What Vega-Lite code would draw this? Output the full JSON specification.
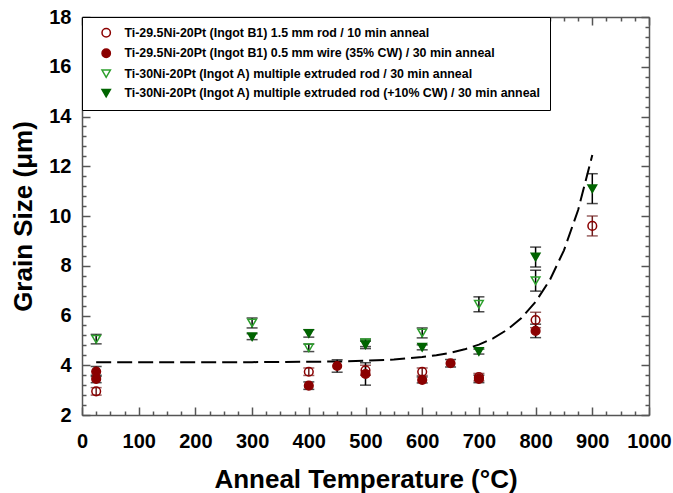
{
  "$schema": "https://vega.github.io/schema/vega-lite/v6.json",
  "width": 567,
  "height": 398,
  "autosize": {"type": "none"},
  "padding": {"left": 82, "top": 17, "right": 24, "bottom": 78},
  "background": "white",
  "config": {
    "view": {"stroke": null},
    "font": "Liberation Sans",
    "axis": {
      "grid": false,
      "domainColor": "#555555",
      "domainWidth": 1.5,
      "tickColor": "#555555",
      "tickWidth": 1.5,
      "labelFont": "Liberation Sans",
      "labelFontWeight": "bold",
      "labelFontSize": 20,
      "labelColor": "black",
      "labelOverlap": false,
      "labelFlush": false,
      "titleFont": "Liberation Sans",
      "titleFontWeight": "bold",
      "titleFontSize": 26,
      "titleColor": "black"
    }
  },
  "datasets": {
    "grain": [
      {"T": 25, "size": 2.95, "lo": 2.8, "hi": 3.1, "series": "Ti-29.5Ni-20Pt (Ingot B1) 1.5 mm rod / 10 min anneal"},
      {"T": 400, "size": 3.74, "lo": 3.59, "hi": 3.89, "series": "Ti-29.5Ni-20Pt (Ingot B1) 1.5 mm rod / 10 min anneal"},
      {"T": 500, "size": 3.8, "lo": 3.6, "hi": 4.0, "series": "Ti-29.5Ni-20Pt (Ingot B1) 1.5 mm rod / 10 min anneal"},
      {"T": 600, "size": 3.74, "lo": 3.59, "hi": 3.89, "series": "Ti-29.5Ni-20Pt (Ingot B1) 1.5 mm rod / 10 min anneal"},
      {"T": 700, "size": 3.52, "lo": 3.37, "hi": 3.67, "series": "Ti-29.5Ni-20Pt (Ingot B1) 1.5 mm rod / 10 min anneal"},
      {"T": 800, "size": 5.82, "lo": 5.51, "hi": 6.13, "series": "Ti-29.5Ni-20Pt (Ingot B1) 1.5 mm rod / 10 min anneal"},
      {"T": 900, "size": 9.6, "lo": 9.2, "hi": 10.0, "series": "Ti-29.5Ni-20Pt (Ingot B1) 1.5 mm rod / 10 min anneal"},
      {"T": 25, "size": 3.75, "lo": 3.55, "hi": 3.95, "series": "Ti-29.5Ni-20Pt (Ingot B1) 0.5 mm wire (35% CW) / 30 min anneal"},
      {"T": 25, "size": 3.45, "lo": 3.3, "hi": 3.6, "series": "Ti-29.5Ni-20Pt (Ingot B1) 0.5 mm wire (35% CW) / 30 min anneal"},
      {"T": 400, "size": 3.18, "lo": 3.03, "hi": 3.33, "series": "Ti-29.5Ni-20Pt (Ingot B1) 0.5 mm wire (35% CW) / 30 min anneal"},
      {"T": 450, "size": 3.97, "lo": 3.72, "hi": 4.22, "series": "Ti-29.5Ni-20Pt (Ingot B1) 0.5 mm wire (35% CW) / 30 min anneal"},
      {"T": 500, "size": 3.65, "lo": 3.2, "hi": 4.1, "series": "Ti-29.5Ni-20Pt (Ingot B1) 0.5 mm wire (35% CW) / 30 min anneal"},
      {"T": 600, "size": 3.41, "lo": 3.29, "hi": 3.53, "series": "Ti-29.5Ni-20Pt (Ingot B1) 0.5 mm wire (35% CW) / 30 min anneal"},
      {"T": 650, "size": 4.08, "lo": 3.93, "hi": 4.23, "series": "Ti-29.5Ni-20Pt (Ingot B1) 0.5 mm wire (35% CW) / 30 min anneal"},
      {"T": 700, "size": 3.45, "lo": 3.3, "hi": 3.6, "series": "Ti-29.5Ni-20Pt (Ingot B1) 0.5 mm wire (35% CW) / 30 min anneal"},
      {"T": 800, "size": 5.38, "lo": 5.11, "hi": 5.65, "series": "Ti-29.5Ni-20Pt (Ingot B1) 0.5 mm wire (35% CW) / 30 min anneal"},
      {"T": 25, "size": 5.05, "lo": 4.86, "hi": 5.24, "series": "Ti-30Ni-20Pt (Ingot A) multiple extruded rod / 30 min anneal"},
      {"T": 300, "size": 5.7, "lo": 5.5, "hi": 5.9, "series": "Ti-30Ni-20Pt (Ingot A) multiple extruded rod / 30 min anneal"},
      {"T": 400, "size": 4.7, "lo": 4.55, "hi": 4.85, "series": "Ti-30Ni-20Pt (Ingot A) multiple extruded rod / 30 min anneal"},
      {"T": 500, "size": 4.9, "lo": 4.75, "hi": 5.05, "series": "Ti-30Ni-20Pt (Ingot A) multiple extruded rod / 30 min anneal"},
      {"T": 600, "size": 5.3, "lo": 5.1, "hi": 5.5, "series": "Ti-30Ni-20Pt (Ingot A) multiple extruded rod / 30 min anneal"},
      {"T": 700, "size": 6.45, "lo": 6.15, "hi": 6.75, "series": "Ti-30Ni-20Pt (Ingot A) multiple extruded rod / 30 min anneal"},
      {"T": 800, "size": 7.4, "lo": 6.98, "hi": 7.82, "series": "Ti-30Ni-20Pt (Ingot A) multiple extruded rod / 30 min anneal"},
      {"T": 300, "size": 5.15, "lo": 5.03, "hi": 5.27, "series": "Ti-30Ni-20Pt (Ingot A) multiple extruded rod (+10% CW) / 30 min anneal"},
      {"T": 400, "size": 5.28, "lo": 5.13, "hi": 5.43, "series": "Ti-30Ni-20Pt (Ingot A) multiple extruded rod (+10% CW) / 30 min anneal"},
      {"T": 500, "size": 4.82, "lo": 4.67, "hi": 4.97, "series": "Ti-30Ni-20Pt (Ingot A) multiple extruded rod (+10% CW) / 30 min anneal"},
      {"T": 600, "size": 4.72, "lo": 4.62, "hi": 4.82, "series": "Ti-30Ni-20Pt (Ingot A) multiple extruded rod (+10% CW) / 30 min anneal"},
      {"T": 700, "size": 4.55, "lo": 4.45, "hi": 4.65, "series": "Ti-30Ni-20Pt (Ingot A) multiple extruded rod (+10% CW) / 30 min anneal"},
      {"T": 800, "size": 8.35, "lo": 7.95, "hi": 8.75, "series": "Ti-30Ni-20Pt (Ingot A) multiple extruded rod (+10% CW) / 30 min anneal"},
      {"T": 900, "size": 11.1, "lo": 10.5, "hi": 11.7, "series": "Ti-30Ni-20Pt (Ingot A) multiple extruded rod (+10% CW) / 30 min anneal"}
    ],
    "fit": [
      {"T": 25, "size": 4.12},
      {"T": 100, "size": 4.12},
      {"T": 200, "size": 4.12},
      {"T": 300, "size": 4.125},
      {"T": 400, "size": 4.14},
      {"T": 450, "size": 4.15},
      {"T": 500, "size": 4.18},
      {"T": 550, "size": 4.23},
      {"T": 600, "size": 4.33},
      {"T": 625, "size": 4.4},
      {"T": 650, "size": 4.5},
      {"T": 675, "size": 4.64},
      {"T": 700, "size": 4.83},
      {"T": 725, "size": 5.08},
      {"T": 750, "size": 5.43},
      {"T": 775, "size": 5.9},
      {"T": 800, "size": 6.55},
      {"T": 825, "size": 7.42},
      {"T": 850, "size": 8.62},
      {"T": 875, "size": 10.24},
      {"T": 900, "size": 12.45}
    ]
  },
  "resolve": {"axis": {"x": "independent", "y": "independent"}},
  "layer": [
    {
      "data": {"name": "fit"},
      "mark": {"type": "line", "color": "black", "strokeWidth": 2, "strokeDash": [15, 6]},
      "encoding": {
        "x": {
          "field": "T", "type": "quantitative",
          "scale": {"domain": [0, 1000], "nice": false},
          "axis": {
            "orient": "top", "labels": false, "title": null,
            "values": [0,25,50,75,100,125,150,175,200,225,250,275,300,325,350,375,400,425,450,475,500,525,550,575,600,625,650,675,700,725,750,775,800,825,850,875,900,925,950,975,1000],
            "tickSize": {"condition": {"test": "datum.value % 100 === 0", "value": -8}, "value": -4}
          }
        },
        "y": {
          "field": "size", "type": "quantitative",
          "scale": {"domain": [2, 18], "nice": false, "zero": false},
          "axis": {
            "orient": "right", "labels": false, "title": null,
            "values": [2,2.4,2.8,3.2,3.6,4,4.4,4.8,5.2,5.6,6,6.4,6.8,7.2,7.6,8,8.4,8.8,9.2,9.6,10,10.4,10.8,11.2,11.6,12,12.4,12.8,13.2,13.6,14,14.4,14.8,15.2,15.6,16,16.4,16.8,17.2,17.6,18],
            "tickSize": {"condition": {"test": "datum.value % 2 === 0", "value": -8}, "value": -4}
          }
        }
      }
    },
    {
      "data": {"name": "grain"},
      "transform": [{"filter": "datum.series === 'Ti-29.5Ni-20Pt (Ingot B1) 1.5 mm rod / 10 min anneal'"}],
      "layer": [
        {
          "mark": {"type": "rule", "color": "#6e1c1c", "strokeWidth": 1.5},
          "encoding": {
            "x": {"field": "T", "type": "quantitative", "axis": null},
            "y": {"field": "lo", "type": "quantitative", "axis": null},
            "y2": {"field": "hi"}
          }
        },
        {
          "mark": {"type": "tick", "orient": "horizontal", "color": "#6e1c1c", "size": 11, "thickness": 1.5},
          "encoding": {
            "x": {"field": "T", "type": "quantitative", "axis": null},
            "y": {"field": "lo", "type": "quantitative", "axis": null}
          }
        },
        {
          "mark": {"type": "tick", "orient": "horizontal", "color": "#6e1c1c", "size": 11, "thickness": 1.5},
          "encoding": {
            "x": {"field": "T", "type": "quantitative", "axis": null},
            "y": {"field": "hi", "type": "quantitative", "axis": null}
          }
        }
      ]
    },
    {
      "data": {"name": "grain"},
      "transform": [{"filter": "datum.series !== 'Ti-29.5Ni-20Pt (Ingot B1) 1.5 mm rod / 10 min anneal'"}],
      "layer": [
        {
          "mark": {"type": "rule", "color": "black", "strokeWidth": 1.5},
          "encoding": {
            "x": {"field": "T", "type": "quantitative", "axis": null},
            "y": {"field": "lo", "type": "quantitative", "axis": null},
            "y2": {"field": "hi"}
          }
        },
        {
          "mark": {"type": "tick", "orient": "horizontal", "color": "black", "size": 11, "thickness": 1.5},
          "encoding": {
            "x": {"field": "T", "type": "quantitative", "axis": null},
            "y": {"field": "lo", "type": "quantitative", "axis": null}
          }
        },
        {
          "mark": {"type": "tick", "orient": "horizontal", "color": "black", "size": 11, "thickness": 1.5},
          "encoding": {
            "x": {"field": "T", "type": "quantitative", "axis": null},
            "y": {"field": "hi", "type": "quantitative", "axis": null}
          }
        }
      ]
    },
    {
      "data": {"name": "grain"},
      "mark": {"type": "point", "size": 75, "strokeWidth": 1.5, "opacity": 1},
      "encoding": {
        "x": {
          "field": "T", "type": "quantitative",
          "title": "Anneal Temperature (°C)",
          "axis": {
            "orient": "bottom",
            "values": [0,25,50,75,100,125,150,175,200,225,250,275,300,325,350,375,400,425,450,475,500,525,550,575,600,625,650,675,700,725,750,775,800,825,850,875,900,925,950,975,1000],
            "labelExpr": "datum.value % 100 === 0 ? format(datum.value, 'd') : ''",
            "labelOverlap": false,
            "labelFlush": false,
            "tickSize": {"condition": {"test": "datum.value % 100 === 0", "value": -8}, "value": -4},
            "labelPadding": 24,
            "titlePadding": 11
          }
        },
        "y": {
          "field": "size", "type": "quantitative",
          "title": "Grain Size (μm)",
          "axis": {
            "orient": "left",
            "values": [2,2.4,2.8,3.2,3.6,4,4.4,4.8,5.2,5.6,6,6.4,6.8,7.2,7.6,8,8.4,8.8,9.2,9.6,10,10.4,10.8,11.2,11.6,12,12.4,12.8,13.2,13.6,14,14.4,14.8,15.2,15.6,16,16.4,16.8,17.2,17.6,18],
            "labelExpr": "datum.value % 2 === 0 ? format(datum.value, 'd') : ''",
            "labelOverlap": false,
            "tickSize": {"condition": {"test": "datum.value % 2 === 0", "value": -8}, "value": -4},
            "labelPadding": 19,
            "titlePadding": 12
          }
        },
        "shape": {
          "field": "series", "type": "nominal",
          "scale": {
            "domain": [
              "Ti-29.5Ni-20Pt (Ingot B1) 1.5 mm rod / 10 min anneal",
              "Ti-29.5Ni-20Pt (Ingot B1) 0.5 mm wire (35% CW) / 30 min anneal",
              "Ti-30Ni-20Pt (Ingot A) multiple extruded rod / 30 min anneal",
              "Ti-30Ni-20Pt (Ingot A) multiple extruded rod (+10% CW) / 30 min anneal"
            ],
            "range": ["circle", "circle", "triangle-down", "triangle-down"]
          },
          "legend": {
            "orient": "none",
            "legendX": 0,
            "legendY": 0,
            "title": null,
            "padding": 9.5,
            "fillColor": "white",
            "strokeColor": "black",
            "symbolOffset": 8.5,
            "symbolSize": 70,
            "symbolStrokeWidth": 1.5,
            "labelFont": "Liberation Sans",
            "labelFontWeight": "bold",
            "labelFontSize": 12.4,
            "labelColor": "black",
            "labelLimit": 600,
            "labelOffset": 12,
            "rowPadding": 5.5
          }
        },
        "stroke": {
          "field": "series", "type": "nominal",
          "scale": {
            "domain": [
              "Ti-29.5Ni-20Pt (Ingot B1) 1.5 mm rod / 10 min anneal",
              "Ti-29.5Ni-20Pt (Ingot B1) 0.5 mm wire (35% CW) / 30 min anneal",
              "Ti-30Ni-20Pt (Ingot A) multiple extruded rod / 30 min anneal",
              "Ti-30Ni-20Pt (Ingot A) multiple extruded rod (+10% CW) / 30 min anneal"
            ],
            "range": ["#8b0000", "#8b0000", "#2ca02c", "#006400"]
          }
        },
        "fill": {
          "field": "series", "type": "nominal",
          "scale": {
            "domain": [
              "Ti-29.5Ni-20Pt (Ingot B1) 1.5 mm rod / 10 min anneal",
              "Ti-29.5Ni-20Pt (Ingot B1) 0.5 mm wire (35% CW) / 30 min anneal",
              "Ti-30Ni-20Pt (Ingot A) multiple extruded rod / 30 min anneal",
              "Ti-30Ni-20Pt (Ingot A) multiple extruded rod (+10% CW) / 30 min anneal"
            ],
            "range": ["transparent", "#8b0000", "transparent", "#006400"]
          }
        }
      }
    }
  ]
}
